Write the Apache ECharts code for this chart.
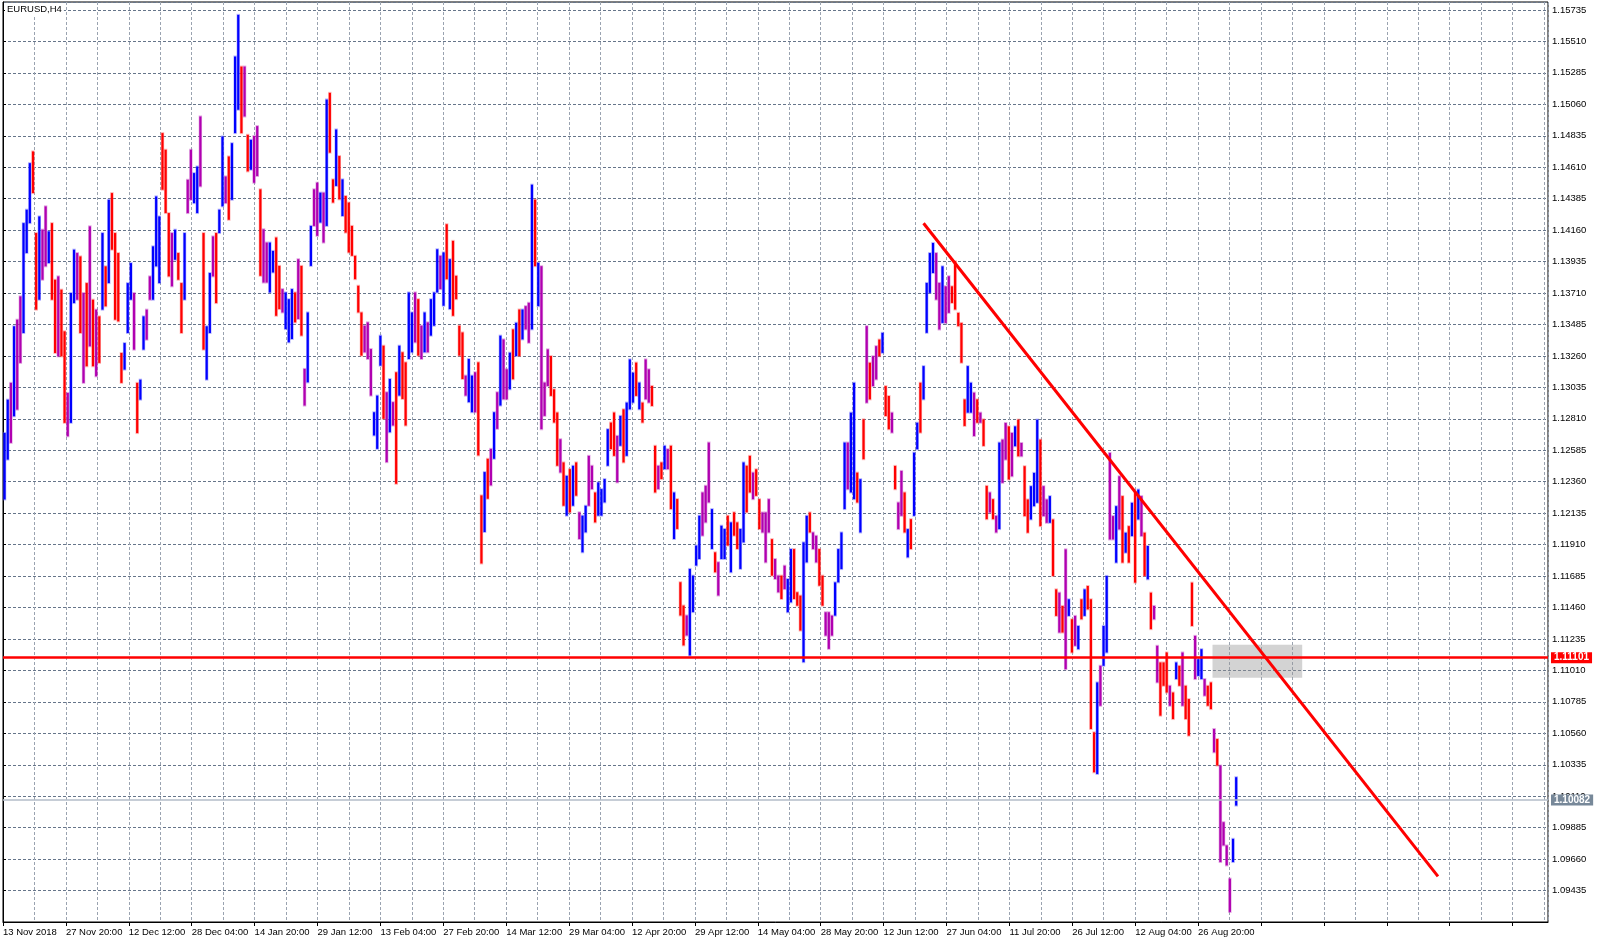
<!DOCTYPE html>
<html><head><meta charset="utf-8">
<script src="https://cdn.jsdelivr.net/npm/echarts@6/dist/echarts.min.js"></script>
<style>html,body{margin:0;padding:0;background:#fff}#c{width:1600px;height:943px}</style>
</head><body><div id="c"></div>
<script>
// Time labels, one every 20 label-axis units
const timeLabels = ['13 Nov 2018','27 Nov 20:00','12 Dec 12:00','28 Dec 04:00','14 Jan 20:00','29 Jan 12:00','13 Feb 04:00','27 Feb 20:00','14 Mar 12:00','29 Mar 04:00','12 Apr 20:00','29 Apr 12:00','14 May 04:00','28 May 20:00','12 Jun 12:00','27 Jun 04:00','11 Jul 20:00','26 Jul 12:00','12 Aug 04:00','26 Aug 20:00'];

const highs = [
1.12709,1.12947,1.13067,1.13472,1.13519,1.13686,1.14210,1.14306,1.14639,1.14723,
1.14139,1.14258,1.14163,1.14330,1.14151,1.14210,1.13805,1.13829,1.13734,1.13436,
1.12995,1.13710,1.14020,1.13996,1.13972,1.13710,1.13781,1.14187,1.13662,1.13591,
1.13543,1.14139,1.13901,1.14377,1.14425,1.14139,1.13996,1.13281,1.13352,1.13781,
1.13924,1.13710,1.13067,1.13090,1.13543,1.13591,1.13829,1.14044,1.14401,1.14258,
1.14854,1.14735,1.14282,1.14139,1.14163,1.13996,1.13781,1.14139,1.14520,1.14735,
1.14568,1.14615,1.14973,1.14139,1.13472,1.13853,1.14115,1.14139,1.14306,1.14830,
1.14544,1.14687,1.14782,1.15402,1.15700,1.15330,1.15330,1.14842,1.14806,
1.14833,
1.14904,1.14452,1.14166,1.14071,1.14071,1.14011,1.14107,1.13904,1.13738,1.13714,
1.13666,1.13738,1.13714,1.13952,1.13904,1.13167,1.13571,1.14190,1.14452,1.14499,
1.14428,1.14428,1.15094,1.15142,1.14523,1.14880,1.14690,1.14523,1.14404,1.14357,
1.14190,1.13976,1.13762,1.13571,1.13476,1.13500,1.13309,1.12857,1.12976,1.13405,
1.13333,1.13000,1.13095,1.12929,1.13143,1.13333,1.13286,1.13214,1.13714,1.13571,
1.13714,1.13666,1.13476,1.13571,1.13500,1.13666,1.13714,1.14023,1.13976,1.14000,
1.14202,1.13952,1.14083,1.13833,1.13476,1.13428,1.13119,1.13238,1.13119,1.13143,
1.13214,1.12262,1.12429,1.12524,1.12595,1.12857,1.13000,1.13405,
1.13378,1.13164,
1.13283,1.13450,1.13497,1.13592,1.13592,1.13616,1.13640,1.14485,1.14378,1.13926,
1.13902,1.13069,1.13307,1.13259,1.13021,1.12855,1.12664,1.12498,1.12402,1.12450,
1.12474,1.12498,1.12141,1.12117,1.12188,1.12545,1.12474,1.12283,1.12355,1.12307,
1.12379,1.12736,1.12783,1.12855,1.12688,1.12831,1.12878,1.12926,1.13235,1.13140,
1.13212,1.13069,1.12926,1.13235,1.13164,1.13045,1.12617,1.12474,1.12498,1.12617,
1.12593,1.12617,1.12283,1.12236,1.11641,1.11474,1.11403,1.11736,1.11688,1.11903,
1.12117,1.12283,1.12331,1.12640,1.12164,1.11855,1.11784,1.12045,1.12022,1.12117,
1.12069,1.12141,1.12069,1.12022,1.12498,1.12474,1.12545,
1.12425,1.12449,1.12235,
1.12140,1.12140,1.12235,1.11949,1.11807,1.11688,1.11688,1.11759,1.11664,1.11878,
1.11878,1.11569,1.11545,1.11926,1.12116,1.12140,1.11997,1.11973,1.11878,1.11688,
1.11426,1.11426,1.11402,1.11640,1.11878,1.11997,1.12640,1.12640,1.12854,1.13068,
1.12425,1.12378,1.12806,1.13473,1.13211,1.13258,1.13330,1.13377,1.13425,1.13044,
1.12973,1.12854,1.12473,1.12211,1.12437,1.12283,1.12021,1.12092,1.12568,1.12782,
1.13068,1.13187,1.13782,1.13996,1.14068,1.13996,1.13782,1.13901,1.13758,1.13830,
1.13758,1.13937,1.13568,1.13496,1.12949,1.13187,1.13068,1.12997,1.12949,1.12854,
1.12806,1.12330,1.12283,1.12235,1.12116,1.12640,
1.12661,1.12780,1.12756,1.12709,
1.12756,1.12804,1.12637,1.12471,1.12233,1.12328,1.12423,1.12804,1.12661,1.12328,
1.12233,1.12257,1.12090,1.11590,1.11566,1.11471,1.11876,1.11519,1.11376,1.11400,
1.11328,1.11519,1.11590,1.11614,1.11519,1.10567,1.10924,1.11043,1.11328,1.11686,
1.12566,1.12114,1.12185,1.12399,1.12257,1.11995,1.12042,1.12209,1.12280,1.12304,
1.12257,1.11995,1.11900,1.11566,1.11471,1.11186,1.11067,1.11067,1.11138,1.10900,
1.10852,1.11067,1.11043,1.11138,1.10900,1.10805,1.11638,1.11257,1.11090,1.11162,
1.10948,1.10900,1.10924,1.10591,1.10519,1.10329,1.09924,1.09758,1.09520,1.09805,1.10246
];

const lows = [
1.12233,1.12518,1.12638,1.12828,1.12876,1.13210,1.13424,1.13996,1.14210,1.14425,
1.13591,1.13662,1.13805,1.13901,1.13924,1.13662,1.13281,1.13257,1.13257,1.12781,
1.12685,1.12781,1.13638,1.13662,1.13424,1.13067,1.13186,1.13329,1.13186,1.13114,
1.13210,1.13591,1.13615,1.13781,1.14020,1.13519,1.13507,1.13067,1.13162,1.13424,
1.13662,1.13305,1.12708,1.12947,1.13305,1.13376,1.13662,1.13662,1.13901,1.13781,
1.14449,1.14282,1.13829,1.13758,1.13948,1.13805,1.13424,1.13662,1.14282,1.14377,
1.14353,1.14282,1.14473,1.13305,1.13090,1.13424,1.13829,1.13638,1.14139,1.14330,
1.14353,1.14234,1.14377,1.14854,1.15021,1.14854,1.14973,1.14580,1.14592,
1.14499,
1.14547,1.13833,1.13785,1.13785,1.13714,1.13857,1.13547,1.13595,1.13571,1.13452,
1.13357,1.13381,1.13500,1.13524,1.13405,1.12905,1.13071,1.13904,1.14190,1.14119,
1.14214,1.14071,1.14190,1.14714,1.14357,1.14476,1.14380,1.14261,1.14142,1.14000,
1.13976,1.13809,1.13571,1.13262,1.13286,1.13238,1.12976,1.12691,1.12595,1.13190,
1.12810,1.12500,1.12714,1.12762,1.12345,1.12976,1.12952,1.12762,1.13238,1.13286,
1.13357,1.13262,1.13238,1.13286,1.13286,1.13405,1.13476,1.13714,1.13738,1.13619,
1.13809,1.13595,1.13547,1.13666,1.13262,1.13095,1.12976,1.12929,1.12857,1.12857,
1.12548,1.11775,1.12000,1.12238,1.12334,1.12524,1.12738,1.12905,
1.12950,1.12950,
1.13021,1.13093,1.13259,1.13259,1.13378,1.13450,1.13354,1.13450,1.13902,1.13616,
1.12736,1.12831,1.13045,1.12974,1.12783,1.12474,1.12426,1.12188,1.12117,1.12141,
1.12188,1.12260,1.11950,1.11855,1.11998,1.12188,1.12307,1.12069,1.12117,1.12117,
1.12212,1.12474,1.12593,1.12545,1.12355,1.12617,1.12498,1.12545,1.12878,1.12926,
1.12974,1.12878,1.12783,1.12950,1.12926,1.12902,1.12283,1.12307,1.12379,1.12450,
1.12450,1.12164,1.11950,1.12022,1.11403,1.11189,1.11260,1.11117,1.11427,1.11760,
1.11807,1.11974,1.12069,1.12212,1.11879,1.11712,1.11546,1.11807,1.11807,1.11903,
1.11712,1.11974,1.11879,1.11736,1.11926,1.12141,1.12283,
1.12235,1.12259,1.12021,
1.11997,1.11783,1.11997,1.11688,1.11664,1.11569,1.11521,1.11592,1.11426,1.11497,
1.11521,1.11473,1.11295,1.11069,1.11783,1.11997,1.11878,1.11783,1.11616,1.11473,
1.11259,1.11164,1.11259,1.11402,1.11640,1.11735,1.12164,1.12306,1.12283,1.12235,
1.12211,1.11997,1.12521,1.12925,1.12949,1.13044,1.13092,1.13258,1.13282,1.12830,
1.12735,1.12711,1.12306,1.12021,1.12116,1.11997,1.11819,1.11878,1.12116,1.12592,
1.12711,1.12949,1.13425,1.13711,1.13853,1.13663,1.13449,1.13496,1.13496,1.13568,
1.13639,1.13592,1.13473,1.13211,1.12759,1.12854,1.12854,1.12687,1.12782,1.12782,
1.12616,1.12092,1.12140,1.12092,1.11997,1.12021,
1.12352,1.12518,1.12376,1.12399,
1.12614,1.12542,1.12542,1.12114,1.11995,1.12090,1.12185,1.12209,1.12042,1.12114,
1.12066,1.12066,1.11686,1.11400,1.11281,1.11281,1.11019,1.11400,1.11138,1.11186,
1.11162,1.11376,1.11400,1.11447,1.10591,1.10281,1.10269,1.10757,1.11043,1.11138,
1.11947,1.11947,1.11781,1.12019,1.11781,1.11852,1.11781,1.11971,1.11638,1.12090,
1.11971,1.11686,1.11662,1.11305,1.11376,1.10924,1.10686,1.10900,1.10852,1.10757,
1.10662,1.10948,1.10900,1.10757,1.10662,1.10543,1.11328,1.10948,1.10971,1.10948,
1.10829,1.10757,1.10733,1.10424,1.10329,1.09639,1.09758,1.09615,1.09282,1.09639,1.10043
];

// b = rising (blue), r = falling (red), m = mixed (magenta)
const tones = ("bbmbmmbbbr"+"rbmmbrrmrr"+"mbbmrmrmrm"+"rbrbrrrrbb"+"bmrbbmmbbb"+"rrrmbrrbmm"+"bbmrbbmrbb"+"mrbbbrmrb"
 +"m"+"mrmmbbrrmb"+"bbrmrmbbmm"+"bmbrrbrbrr"+"rrrrmmmbbb"+"rmbmrbrrbb"+"mrmbmbbbmb"+"rbrrrrmbbm"+"rrbrmbmb"
 +"mm"+"brbrbmmbrb"+"mmmrrrmrbr"+"brmbbmmrbb"+"bbrrmbrbbb"+"rbrmmrrmrb"+"mrbrrrmbbb"+"bmmmbrmbbr"+"brrbbrr"
 +"mrr"+"mmmrmmrmbb"+"rrrbbrmmrr"+"mmmbbbbmbb"+"rbrmrmmrbr"+"rmrmmrbrbb"+"rbbbbmmbmm"+"rrrrrbbmrm"+"rrmrmb"
 +"mmrm"+"brmrrbbbrm"+"mbrrmrmbrm"+"brbrrrbmbb"+"mmbmrbrbrb"+"mrbrmmrrrm"+"rbrmrrrmbb"+"mrrmrmmmmbb").split('');

const levelPrice = 1.11101;   // horizontal support line
const lastPrice = 1.10082;    // current bid
const trendStart = [291.5, 1.14209];
const trendEnd = [454.4, 1.09536];
const zoneStart = [383.0, 1.11194];
const zoneEnd = [411.4, 1.10958];

const BAR_SLOTS = 489.24;     // bar-axis extent
const LABEL_UNITS = 491.26;   // time-label axis extent
const FONT = 'Liberation Sans';
const toneColor = {b:'#0000ff', r:'#ff0000', m:'#b000b0'};
const toneHalo = {b:'rgba(90,90,255,0.45)', r:'rgba(255,90,90,0.45)', m:'rgba(190,60,190,0.45)'};

const n = Math.min(highs.length, lows.length);
const bars = [];
for (let i = 0; i < n; i++) bars.push([i + 0.5, lows[i], highs[i]]);

const chart = echarts.init(document.getElementById('c'), null, {renderer:'canvas'});
chart.setOption({
  animation:false,
  backgroundColor:'#fff',
  title:{text:'EURUSD,H4', left:5, top:3, padding:[1,2], backgroundColor:'#fff',
    textStyle:{fontFamily:FONT, fontSize:9.5, fontWeight:'normal', color:'#000'}},
  grid:{left:2, right:52, top:2, bottom:21, show:true, borderColor:'#000', borderWidth:1, backgroundColor:'#fff'},
  xAxis:[
    {type:'value', min:0, max:BAR_SLOTS, show:false},
    {type:'value', min:0, max:LABEL_UNITS, interval:20, position:'bottom',
     axisLine:{show:true, lineStyle:{color:'#000'}},
     axisTick:{show:true, length:4, lineStyle:{color:'#000'}},
     axisLabel:{formatter:function(v){ const k = Math.round(v/20); return (Math.abs(v-k*20)<1e-6 && timeLabels[k]) ? timeLabels[k] : ''; },
       align:'left', margin:5, fontSize:9.5, fontFamily:FONT, color:'#000', showMaxLabel:false, hideOverlap:false},
     splitLine:{show:true, lineStyle:{color:'#66758a', width:1, type:[3,2]}}},
    {type:'value', min:0, max:LABEL_UNITS, interval:10, position:'bottom',
     axisLine:{show:false}, axisTick:{show:false}, axisLabel:{show:false},
     splitLine:{show:true, lineStyle:{color:'#9aa3b0', width:1, type:[3,2]}}}
  ],
  yAxis:{type:'value', position:'right', min:1.0921, max:1.15792, interval:0.00225,
    axisLine:{show:true, lineStyle:{color:'#000'}},
    axisTick:{show:true, length:3, lineStyle:{color:'#000'}},
    axisLabel:{formatter:function(v){return v.toFixed(5);}, fontSize:9.5, fontFamily:FONT, color:'#000', margin:4,
      showMinLabel:false, showMaxLabel:false},
    splitLine:{show:true, lineStyle:{color:'#66758a', width:1, type:[3,2]}}},
  series:[
    {type:'custom', name:'EURUSD', xAxisIndex:0, yAxisIndex:0, data:bars, z:2,
     encode:{x:0, y:[1,2]},
     renderItem:function(params, api){
       const x = api.value(0);
       const p1 = api.coord([x, api.value(1)]);
       const p2 = api.coord([x, api.value(2)]);
       const t = tones[params.dataIndex] || 'b';
       return {type:'group', children:[
         {type:'line', shape:{x1:p1[0], y1:p1[1]+1, x2:p2[0], y2:p2[1]-1}, style:{stroke:toneHalo[t], lineWidth:3.4}},
         {type:'line', shape:{x1:p1[0], y1:p1[1], x2:p2[0], y2:p2[1]}, style:{stroke:toneColor[t], lineWidth:2.2}}
       ]};
     }},
    {type:'line', name:'marks', xAxisIndex:0, yAxisIndex:0, data:[], z:5, symbol:'none',
     markArea:{silent:true, itemStyle:{color:'rgba(150,150,150,0.42)'},
       data:[[{coord:zoneStart},{coord:zoneEnd}]]},
     markLine:{silent:true, symbol:['none','none'], animation:false, precision:5,
       data:[
         {yAxis:levelPrice, lineStyle:{color:'#ff0000', width:2.5, type:'solid'},
          label:{show:true, position:'end', distance:3, formatter:levelPrice.toFixed(5), backgroundColor:'#ff0000',
            color:'#fff', fontWeight:'bold', fontSize:10, fontFamily:FONT, padding:[1,3,0,3]}},
         {yAxis:lastPrice, lineStyle:{color:'#b3bdc9', width:1.5, type:'solid'},
          label:{show:true, position:'end', distance:3, formatter:lastPrice.toFixed(5), backgroundColor:'#778899',
            color:'#fff', fontWeight:'bold', fontSize:10, fontFamily:FONT, padding:[1,3,0,3]}},
         [{coord:trendStart, lineStyle:{color:'#ff0000', width:3, type:'solid'}, label:{show:false}},
          {coord:trendEnd}]
       ]}}
  ]
});
</script></body></html>
